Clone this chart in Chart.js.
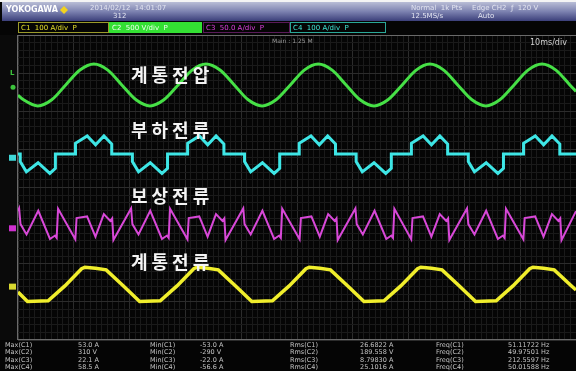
<!DOCTYPE html>
<html lang="ko">
<head>
<meta charset="UTF-8">
<title>계통전압 / 부하전류 / 보상전류 / 계통전류</title>
<style>
  body { margin: 0; background: #000; }
  #wrap { width: 576px; height: 371px; }
</style>
</head>
<body>
<div id="wrap"><canvas id="scope" width="576" height="371"></canvas></div>

<script src="https://cdn.jsdelivr.net/npm/chart.js"></script>
<script>
// time axis in ms (10 ms/div, 10 div), vertical in screen divisions (-4..4)

// 계통전압 (green)
const voltT = [0, 1.0, 3.55, 6.05, 8.55, 11.1, 13.6, 16.1, 18.6, 21.15, 23.65, 26.15, 28.7, 31.2, 33.7, 36.2,
  38.75, 41.25, 43.75, 46.25, 48.8, 51.3, 53.8, 56.3, 58.8, 61.3, 63.8, 66.3, 68.85, 71.35, 73.8, 76.3,
  78.8, 81.35, 83.85, 86.35, 88.9, 91.4, 93.9, 96.4, 98.9, 100]
const voltV = [2.42, 2.30, 2.14, 2.30, 2.69, 3.08, 3.24, 3.08, 2.69, 2.30, 2.14, 2.30, 2.69, 3.08, 3.24, 3.08,
  2.69, 2.30, 2.14, 2.30, 2.69, 3.08, 3.24, 3.08, 2.69, 2.30, 2.14, 2.30, 2.69, 3.08, 3.24, 3.08,
  2.69, 2.30, 2.14, 2.30, 2.69, 3.08, 3.24, 3.08, 2.69, 2.52]

// 부하전류 (cyan)
const loadT = [0, 0.4, 0.4, 1.5, 3.6, 5.7, 6.7, 6.7,
  10.3, 10.3, 12.4, 13.9, 15.4, 16.8, 16.8, 20.5, 20.5, 21.6, 23.7, 25.8, 26.8, 26.8,
  30.4, 30.4, 32.5, 34.0, 35.5, 36.9, 36.9, 40.6, 40.6, 41.7, 43.8, 45.9, 46.9, 46.9,
  50.4, 50.4, 52.5, 54.0, 55.5, 56.9, 56.9, 60.6, 60.6, 61.7, 63.8, 65.9, 66.9, 66.9,
  70.5, 70.5, 72.6, 74.1, 75.6, 77.0, 77.0, 80.7, 80.7, 81.8, 83.9, 86.0, 87.0, 87.0,
  90.6, 90.6, 92.7, 94.2, 95.7, 97.1, 97.1, 100]
const loadV = [0.88, 0.88, 0.68, 0.41, 0.65, 0.37, 0.50, 0.88,
  0.88, 1.16, 1.35, 1.12, 1.35, 1.14, 0.88, 0.88, 0.68, 0.41, 0.65, 0.37, 0.50, 0.88,
  0.88, 1.16, 1.35, 1.12, 1.35, 1.14, 0.88, 0.88, 0.68, 0.41, 0.65, 0.37, 0.50, 0.88,
  0.88, 1.16, 1.35, 1.12, 1.35, 1.14, 0.88, 0.88, 0.68, 0.41, 0.65, 0.37, 0.50, 0.88,
  0.88, 1.16, 1.35, 1.12, 1.35, 1.14, 0.88, 0.88, 0.68, 0.41, 0.65, 0.37, 0.50, 0.88,
  0.88, 1.16, 1.35, 1.12, 1.35, 1.14, 0.88, 0.88]

// 보상전류 (magenta)
const compT = [0, 0.2, 0.45, 1.53, 3.63, 5.73, 6.63, 6.93, 7.18,
  10.27, 10.5, 12.38, 13.88, 15.38, 16.54, 16.88, 17.1, 20.27, 20.5, 21.6, 23.7, 25.8, 26.7, 27.0, 27.25,
  30.37, 30.6, 32.48, 33.98, 35.48, 36.64, 36.98, 37.2, 40.37, 40.6, 41.7, 43.8, 45.9, 46.8, 47.1, 47.35,
  50.47, 50.7, 52.58, 54.08, 55.58, 56.74, 57.08, 57.3, 60.47, 60.7, 61.8, 63.9, 66.0, 66.9, 67.2, 67.45,
  70.47, 70.7, 72.58, 74.08, 75.58, 76.74, 77.08, 77.3, 80.47, 80.7, 81.8, 83.9, 86.0, 86.9, 87.2, 87.45,
  90.57, 90.8, 92.68, 94.18, 95.68, 96.84, 97.18, 97.4, 100]
const compV = [-0.62, -0.55, -0.96, -1.23, -0.61, -1.35, -1.26, -1.32, -0.56,
  -1.36, -0.80, -0.76, -1.29, -0.70, -0.88, -0.81, -1.38, -0.55, -0.96, -1.23, -0.61, -1.35, -1.26, -1.32, -0.56,
  -1.36, -0.80, -0.76, -1.29, -0.70, -0.88, -0.81, -1.38, -0.55, -0.96, -1.23, -0.61, -1.35, -1.26, -1.32, -0.56,
  -1.36, -0.80, -0.76, -1.29, -0.70, -0.88, -0.81, -1.38, -0.55, -0.96, -1.23, -0.61, -1.35, -1.26, -1.32, -0.56,
  -1.36, -0.80, -0.76, -1.29, -0.70, -0.88, -0.81, -1.38, -0.55, -0.96, -1.23, -0.61, -1.35, -1.26, -1.32, -0.56,
  -1.36, -0.80, -0.76, -1.29, -0.70, -0.88, -0.81, -1.38, -0.62]

// 계통전류 (yellow)
const gridT = [0, 1.7, 5.4, 8.4, 11.4, 12.0, 13.9, 15.8, 18.8, 21.8, 25.5, 28.5, 31.5, 32.1, 34.0, 35.9,
  38.9, 41.9, 45.6, 48.6, 51.6, 52.2, 54.1, 56.0, 59.0, 62.0, 65.6, 68.6, 71.6, 72.2, 74.1, 76.0,
  79.0, 82.0, 85.7, 88.7, 91.7, 92.3, 94.2, 96.1, 99.1, 100]
const gridV = [-2.74, -2.99, -2.97, -2.58, -2.13, -2.09, -2.12, -2.16, -2.57, -2.99, -2.97, -2.58, -2.13, -2.09, -2.12, -2.16,
  -2.57, -2.99, -2.97, -2.58, -2.13, -2.09, -2.12, -2.16, -2.57, -2.99, -2.97, -2.58, -2.13, -2.09, -2.12, -2.16,
  -2.57, -2.99, -2.97, -2.58, -2.13, -2.09, -2.12, -2.16, -2.57, -2.69]

const labels = ['계통전압', '부하전류', '보상전류', '계통전류']
const labelY = [2.95, 1.5, -0.22, -1.95]

const chHeader = ['C1  100 A/div  P', 'C2  500 V/div  P', 'C3  50.0 A/div  P', 'C4  100 A/div  P']

const measRows = [
  ['Max(C1)', '53.0 A', 'Min(C1)', '-53.0 A', 'Rms(C1)', '26.6822 A', 'Freq(C1)', '51.11722 Hz'],
  ['Max(C2)', '310 V', 'Min(C2)', '-290 V', 'Rms(C2)', '189.558 V', 'Freq(C2)', '49.97501 Hz'],
  ['Max(C3)', '22.1 A', 'Min(C3)', '-22.0 A', 'Rms(C3)', '8.79830 A', 'Freq(C3)', '212.5597 Hz'],
  ['Max(C4)', '58.5 A', 'Min(C4)', '-56.6 A', 'Rms(C4)', '25.1016 A', 'Freq(C4)', '50.01588 Hz']
]

let pts = (t, v) => t.map((x, i) => ({ x: x, y: v[i] }))

let trace = (label, t, v, color, width, mono) => ({
  label: label,
  data: pts(t, v),
  borderColor: color,
  borderWidth: width,
  pointRadius: 0,
  fill: false,
  cubicInterpolationMode: mono ? 'monotone' : 'default',
  tension: 0
})

// scope screen furniture: header bar, channel tags, markers, measurements
const scopeFrame = {
  id: 'scopeFrame',
  beforeDraw(chart) {
    const c = chart.ctx
    c.save()
    c.fillStyle = '#050505'
    c.fillRect(0, 0, chart.width, chart.height)

    let g = c.createLinearGradient(0, 2, 0, 21)
    g.addColorStop(0, '#b9bdd6')
    g.addColorStop(0.5, '#7c82b0')
    g.addColorStop(1, '#3b3f7a')
    c.fillStyle = g
    c.fillRect(2, 2, chart.width - 2, 19)
    c.fillStyle = '#f4f4f4'
    c.fillRect(0, 0, chart.width, 2)

    c.font = 'bold 8px "DejaVu Sans"'
    c.fillStyle = '#ffffff'
    c.textBaseline = 'middle'
    c.fillText('YOKOGAWA', 6, 10)
    c.fillStyle = '#f2d21e'
    c.beginPath()
    c.moveTo(64, 6); c.lineTo(68, 10); c.lineTo(64, 14); c.lineTo(60, 10); c.closePath()
    c.fill()
    c.font = '7px "DejaVu Sans"'
    c.fillStyle = '#e2e4f0'
    c.fillText('2014/02/12  14:01:07', 90, 8)
    c.fillText('312', 113, 16)
    c.fillText('Normal  1k Pts', 411, 8)
    c.fillText('12.5MS/s', 411, 16)
    c.fillText('Edge CH2  \u0192  120 V', 472, 8)
    c.fillText('Auto', 478, 16)

    // channel tags
    const tagX = [18, 109, 203, 290]
    const tagW = [90, 93, 86, 95]
    const tagFg = ['#e6e02a', '#f0fff0', '#e040e0', '#40e8d8']
    c.font = '7px "DejaVu Sans"'
    for (let i = 0; i < 4; i++) {
      if (i === 1) {
        c.fillStyle = '#33e033'
        c.fillRect(tagX[i], 22, tagW[i], 11)
      } else {
        c.strokeStyle = i === 0 ? '#9a9a2a' : (i === 3 ? '#2aa898' : '#5a1a5a')
        c.lineWidth = 1
        c.strokeRect(tagX[i] + 0.5, 22.5, tagW[i], 10)
      }
      c.fillStyle = tagFg[i]
      c.fillText(chHeader[i], tagX[i] + 3, 28)
    }
    c.restore()
  },
  afterDraw(chart) {
    const c = chart.ctx
    const a = chart.chartArea
    const y = chart.scales.y
    c.save()
    // left strip with ground markers
    c.fillStyle = '#0a0a0a'
    c.fillRect(0, a.top, a.left - 1, a.bottom - a.top)
    c.strokeStyle = '#6a6a6a'
    c.lineWidth = 1
    c.beginPath()
    c.moveTo(a.left - 0.5, a.top); c.lineTo(a.left - 0.5, a.bottom)
    c.moveTo(a.left, a.top + 0.5); c.lineTo(a.right, a.top + 0.5)
    c.moveTo(a.left, a.bottom - 0.5); c.lineTo(a.right, a.bottom - 0.5)
    c.stroke()

    c.font = 'bold 7px "DejaVu Sans"'
    c.fillStyle = '#3cc43c'
    c.textBaseline = 'middle'
    c.fillText('L', 10, y.getPixelForValue(3.0))
    c.beginPath()
    c.arc(13, y.getPixelForValue(2.63), 2.5, 0, Math.PI * 2)
    c.fill()
    const mk = [[0.78, '#40d8d8'], [-1.07, '#d030d0'], [-2.6, '#d8d830']]
    mk.forEach(m => {
      c.fillStyle = m[1]
      c.fillRect(9, y.getPixelForValue(m[0]) - 3, 7, 6)
    })

    // timebase info
    c.font = '6px "DejaVu Sans"'
    c.fillStyle = '#9a9a9a'
    c.fillText('Main : 1.25 M', 272, 41)
    c.font = '8px "DejaVu Sans"'
    c.fillStyle = '#d0d0d0'
    c.fillText('10ms/div', 530, 43)

    // trace names
    c.font = 'bold 18px "Noto Sans CJK KR"'
    c.fillStyle = '#f4f4f4'
    c.letterSpacing = '4px'
    labels.forEach((t, i) => c.fillText(t, 131, y.getPixelForValue(labelY[i])))
    c.letterSpacing = '0px'

    // measurement table
    c.font = '6.5px "DejaVu Sans"'
    c.fillStyle = '#c4c4c4'
    const colX = [5, 78, 150, 200, 290, 360, 436, 508]
    measRows.forEach((r, i) => {
      r.forEach((s, j) => c.fillText(s, colX[j], 345 + i * 7.5))
    })
    c.restore()
  }
}

const ctx = document.getElementById('scope')

let scope = new Chart(ctx, {
  type: 'line',
  data: {
    datasets: [
      trace('계통전압', voltT, voltV, '#46e046', 3, true),
      trace('부하전류', loadT, loadV, '#3ee6e6', 3, false),
      trace('보상전류', compT, compV, '#d848d8', 2, false),
      trace('계통전류', gridT, gridV, '#f0ee2c', 3.5, false)
    ]
  },
  options: {
    responsive: false,
    animation: false,
    devicePixelRatio: 1,
    layout: { padding: { left: 18, top: 35, right: 0, bottom: 31 } },
    plugins: { legend: { display: false }, tooltip: { enabled: false } },
    scales: {
      x: {
        type: 'linear', min: 0, max: 100,
        ticks: { display: false, stepSize: 1, maxTicksLimit: 200 },
        grid: { drawTicks: false, color: c => c.tick.value % 10 === 0 ? '#2c2c2c' : '#1a1a1a' },
        border: { display: false }
      },
      y: {
        type: 'linear', min: -4, max: 4,
        ticks: { display: false, stepSize: 0.2, maxTicksLimit: 200 },
        grid: { drawTicks: false, color: c => Math.abs(c.tick.value % 1) < 0.01 ? '#2c2c2c' : '#1a1a1a' },
        border: { display: false }
      }
    }
  },
  plugins: [scopeFrame]
})
</script>
</body>
</html>
